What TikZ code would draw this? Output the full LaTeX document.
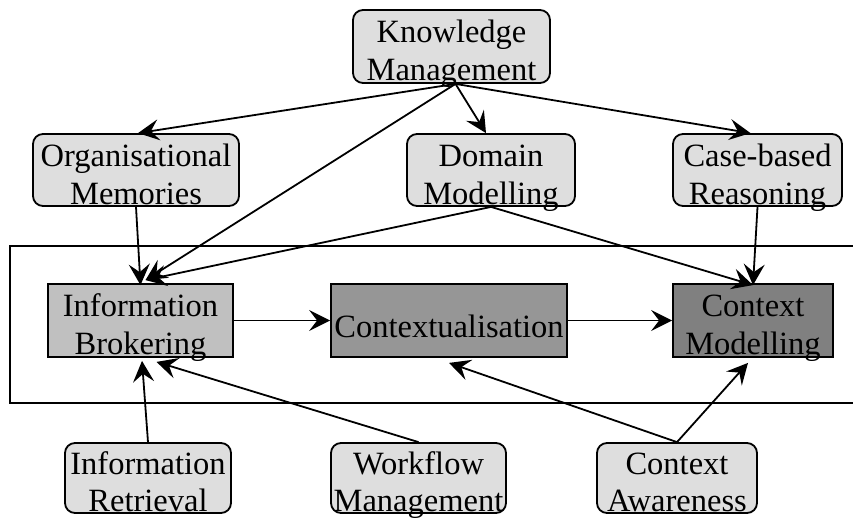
\documentclass[tikz,border=0pt]{standalone}
\usepackage{fontspec}
\setmainfont{Liberation Serif}
\usetikzlibrary{arrows.meta}
\definecolor{softgray}{HTML}{DEDEDE}
\definecolor{ibgray}{HTML}{C0C0C0}
\definecolor{cxgray}{HTML}{969696}
\definecolor{cmgray}{HTML}{808080}
\begin{document}
\begin{tikzpicture}[x=1pt,y=-1pt,
  soft/.style={draw=black, line width=1.8pt, rounded corners=10pt, fill=softgray, inner sep=0pt},
  hard/.style={draw=black, line width=1.8pt, inner sep=0pt},
  lbl/.style={font=\fontsize{32.5}{38}\selectfont, inner sep=0pt, anchor=base},
  link/.style={line width=1.8pt, -{Stealth[length=21pt,width=21pt,inset=8pt]}}]
\useasboundingbox (0,0) rectangle (853,517);
% frame
\draw[line width=1.8pt] (853,246) -- (10,246) -- (10,403) -- (853,403);
% boxes
\node[soft, minimum width=197pt, minimum height=73pt] (km) at (451.5,46.5) {};
\node[soft, minimum width=206pt, minimum height=72pt] (om) at (136,170) {};
\node[soft, minimum width=168pt, minimum height=72pt] (dm) at (491,170) {};
\node[soft, minimum width=169pt, minimum height=72pt] (cbr) at (757.5,170) {};
\node[hard, fill=ibgray, minimum width=185pt, minimum height=73pt] (ib) at (140.5,320.5) {};
\node[hard, fill=cxgray, minimum width=236pt, minimum height=73pt] (cx) at (449,320.5) {};
\node[hard, fill=cmgray, minimum width=160pt, minimum height=73pt] (cm) at (753,320.5) {};
\node[soft, minimum width=166pt, minimum height=70pt] (ir) at (148,478) {};
\node[soft, minimum width=175pt, minimum height=70pt] (wm) at (418.5,478) {};
\node[soft, minimum width=160pt, minimum height=70pt] (ca) at (677,478) {};
% arrows
\draw[link] ([xshift=4pt]km.south) -- ([xshift=2pt]om.north);
\draw[link] ([xshift=4pt]km.south) -- ([xshift=5pt,yshift=3pt]ib.north);
\draw[link] ([xshift=4pt]km.south) -- ([xshift=-5pt]dm.north);
\draw[link] ([xshift=4pt]km.south) -- ([xshift=-7pt]cbr.north);
\draw[link] (om.south) -- ([yshift=-2pt]ib.north);
\draw[link] (dm.south) -- ([xshift=5pt,yshift=3pt]ib.north);
\draw[link] (dm.south) -- ([yshift=-2pt]cm.north);
\draw[link] (cbr.south) -- ([yshift=-2pt]cm.north);
\draw[link] (ib.east) -- (cx.west);
\draw[link] (cx.east) -- (cm.west);
\draw[link] (ir.north) -- ([xshift=1.5pt,yshift=-3pt]ib.south);
\draw[link] (wm.north) -- ([xshift=16pt,yshift=-4pt]ib.south);
\draw[link] (ca.north) -- ([yshift=-5pt]cx.south);
\draw[link] (ca.north) -- ([xshift=-5pt,yshift=-5pt]cm.south);
% labels
\node[lbl] (km1) at ([yshift=-33pt]km.north) {Knowledge};
\node[lbl] (km2) at ([yshift=-71pt]km.north) {Management};
\node[lbl] (om1) at ([yshift=-33pt]om.north) {Organisational};
\node[lbl] (om2) at ([yshift=-71pt]om.north) {Memories};
\node[lbl] (dm1) at ([yshift=-33pt]dm.north) {Domain};
\node[lbl] (dm2) at ([yshift=-71pt]dm.north) {Modelling};
\node[lbl] (cbr1) at ([yshift=-33pt]cbr.north) {Case-based};
\node[lbl] (cbr2) at ([yshift=-71pt]cbr.north) {Reasoning};
\node[lbl] (ib1) at ([yshift=-33pt]ib.north) {Information};
\node[lbl] (ib2) at ([yshift=-71pt]ib.north) {Brokering};
\node[lbl] (cx1) at ([yshift=-16.5pt]cx.center) {Contextualisation};
\node[lbl] (cm1) at ([yshift=-33pt]cm.north) {Context};
\node[lbl] (cm2) at ([yshift=-71pt]cm.north) {Modelling};
\node[lbl] (ir1) at ([yshift=-32pt]ir.north) {Information};
\node[lbl] (ir2) at ([yshift=-69pt]ir.north) {Retrieval};
\node[lbl] (wm1) at ([yshift=-32pt]wm.north) {Workflow};
\node[lbl] (wm2) at ([yshift=-69pt]wm.north) {Management};
\node[lbl] (ca1) at ([yshift=-32pt]ca.north) {Context};
\node[lbl] (ca2) at ([yshift=-69pt]ca.north) {Awareness};
\end{tikzpicture}
\end{document}
